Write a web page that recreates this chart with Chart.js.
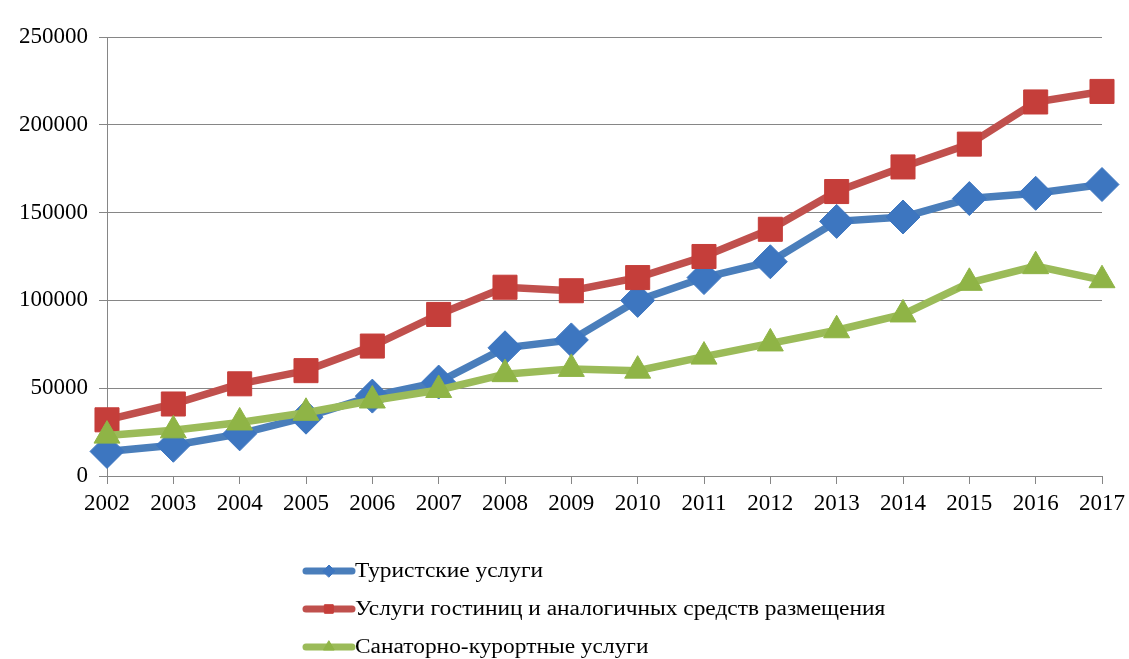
<!DOCTYPE html>
<html>
<head>
<meta charset="utf-8">
<script src="https://cdn.jsdelivr.net/npm/chart.js@4/dist/chart.umd.min.js"></script>
<style>
  html,body{margin:0;padding:0;background:#fff;}
  #wrap{position:relative;width:1129px;height:659px;}
</style>
</head>
<body>
<div id="wrap"><canvas id="chart" width="1129" height="659"></canvas></div>
<script>
// данные: услуги по годам
const years = ['2002','2003','2004','2005','2006','2007','2008','2009','2010','2011','2012','2013','2014','2015','2016','2017'];
const tourist = [14000,17500,24000,33500,45500,53500,73000,77500,100000,113000,122000,145000,147500,158000,161000,166000];
const hotels  = [32000,41000,52500,60000,74000,92000,107500,105500,113000,125000,140500,162000,176000,189000,213000,219000];
const sanatorium = [23000,26000,30500,36000,43000,49000,58000,61000,60000,68000,75500,83000,92000,110000,119500,111500];
const seriesNames = ['Туристские услуги','Услуги гостиниц и аналогичных средств размещения','Санаторно-курортные услуги'];
const yTicks = [0,50000,100000,150000,200000,250000];

const FONT = "'Liberation Serif','Times New Roman',serif";

const styles = [
  { line:'#4a7ebb', fill:'#3d76c0', point:'rectRot', r:17 },
  { line:'#c0504d', fill:'#c53e3a', point:'rect', r:17 },
  { line:'#9bbb59', fill:'#8fb446', point:'triangle', r:15 }
];
const dataArr = [tourist, hotels, sanatorium];

// легенда: вертикальный список под графиком
const legendPlugin = {
  id:'legendList',
  afterDraw(chart){
    const ctx = chart.ctx;
    ctx.save();
    const x0 = 306, x1 = 352, rows = [571, 609, 647];
    seriesNames.forEach((name,i)=>{
      const s = styles[i], y = rows[i];
      ctx.strokeStyle = s.line; ctx.lineWidth = 7; ctx.lineCap = 'round';
      ctx.beginPath(); ctx.moveTo(x0,y); ctx.lineTo(x1,y); ctx.stroke();
      ctx.fillStyle = s.fill; ctx.strokeStyle = s.fill; ctx.lineWidth = 1;
      try{ Chart.helpers.drawPoint(ctx, { pointStyle:s.point, radius:6, rotation:0, borderWidth:1 }, (x0+x1)/2, y); ctx.fill(); }catch(_){ }
      ctx.save();
      ctx.translate(x1+3, y+1); ctx.scale(1.17, 1);
      ctx.fillStyle = '#000'; ctx.font = '20px ' + FONT;
      ctx.textBaseline = 'middle'; ctx.textAlign = 'left';
      ctx.fillText(name, 0, 0);
      ctx.restore();
    });
    ctx.restore();
  }
};

const chart = new Chart(document.getElementById('chart'), {
  type:'line',
  data:{
    labels: years,
    datasets: dataArr.map((d,i)=>({
      label: seriesNames[i],
      data: d,
      borderColor: styles[i].line,
      borderWidth: 7.5,
      backgroundColor: styles[i].fill,
      pointStyle: styles[i].point,
      pointRadius: styles[i].r,
      pointHoverRadius: styles[i].r,
      pointBackgroundColor: styles[i].fill,
      pointBorderColor: styles[i].fill,
      pointBorderWidth: 1,
      tension: 0,
      fill: false,
      order: 2 - i
    }))
  },
  options:{
    responsive:false,
    animation:false,
    events:[],
    layout:{ padding:{ top:37, right:27, left:0, bottom:0 } },
    plugins:{ legend:{ display:false }, tooltip:{ enabled:false } },
    scales:{
      x:{
        offset:false,
        grid:{ display:true, drawOnChartArea:false, color:'#868686', tickLength:8 },
        border:{ display:true, color:'#868686', width:1 },
        ticks:{ color:'#000', font:{ family:FONT, size:23 }, padding:6, maxRotation:0, autoSkip:false },
        afterFit(s){ s.height = 183; s.paddingRight = 0; s.paddingLeft = 0; }
      },
      y:{
        min:0, max:250000,
        afterBuildTicks(s){ s.ticks = yTicks.map(v=>({ value:v })); },
        grid:{ color:'#868686', tickLength:8 },
        border:{ display:true, color:'#868686', width:1 },
        ticks:{ color:'#000', font:{ family:FONT, size:23 }, padding:11, callback:v=>String(v) },
        afterFit(s){ s.width = 107; }
      }
    }
  },
  plugins:[legendPlugin]
});
</script>
</body>
</html>
